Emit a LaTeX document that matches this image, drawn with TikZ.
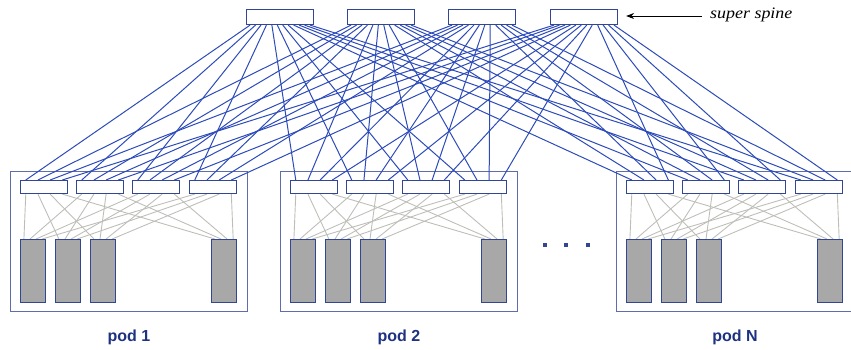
\documentclass[tikz,border=0pt]{standalone}
\usepackage{fontspec}
\setmainfont{Liberation Serif}
\setsansfont{Liberation Sans}
\usetikzlibrary{calc,arrows.meta}
\definecolor{linkblue}{RGB}{45,75,185}
\definecolor{boxblue}{RGB}{50,70,150}
\definecolor{podblue}{RGB}{95,110,170}
\definecolor{srvgray}{RGB}{168,168,168}
\definecolor{thin}{RGB}{190,190,185}
\definecolor{labelblue}{RGB}{30,50,130}
\tikzset{
  spinebox/.style={draw=boxblue, fill=white, line width=1.1pt, minimum width=67pt, minimum height=15pt, inner sep=0pt, anchor=north west},
  leafbox/.style={draw=boxblue, fill=white, line width=1.1pt, minimum width=47pt, minimum height=13pt, inner sep=0pt, anchor=north west},
  srvbox/.style={draw=boxblue, fill=srvgray, line width=1.1pt, minimum width=25pt, minimum height=63pt, inner sep=0pt, anchor=north west},
  podbox/.style={draw=podblue, line width=1pt, minimum width=237pt, minimum height=140pt, inner sep=0pt, anchor=north west},
  uplink/.style={draw=linkblue, line width=1pt},
  downlink/.style={draw=thin, line width=0.9pt},
  podlabel/.style={font=\sffamily\bfseries\fontsize{16}{18}\selectfont, text=labelblue},
  dot/.style={fill=boxblue, minimum size=4.5pt, inner sep=0pt},
}
\begin{document}
\begin{tikzpicture}[x=1pt,y=-1pt]
\useasboundingbox (0,0) rectangle (851,349);
% pods
\foreach \p/\px in {1/10,2/280,3/616}{
  \node[podbox] (pod\p) at (\px,171) {};
  \foreach \i/\o in {1/10,2/66,3/122,4/179}{
    \node[leafbox] (p\p l\i) at (\px+\o,180) {};
  }
  \foreach \j/\o in {1/10,2/45,3/80,4/201}{
    \node[srvbox] (p\p v\j) at (\px+\o,239) {};
  }
}
% leaf to server links
\foreach \p in {1,2,3}{
  \foreach \i in {1,2,3,4}{
    \foreach \j in {1,2,3,4}{
      \pgfmathsetmacro{\fa}{0.12+(\j-1)*0.76/3}
      \pgfmathsetmacro{\fb}{0.15+(\i-1)*0.7/3}
      \draw[downlink] ($(p\p l\i.south west)!\fa!(p\p l\i.south east)$) -- ($(p\p v\j.north west)!\fb!(p\p v\j.north east)$);
    }
  }
}
% redraw servers on top
\foreach \p/\px in {1/10,2/280,3/616}{
  \foreach \j/\o in {1/10,2/45,3/80,4/201}{
    \node[srvbox] at (\px+\o,239) {};
  }
}
% spines
\foreach \s/\sx in {1/246,2/347,3/448,4/550}{
  \node[spinebox] (s\s) at (\sx,9) {};
}
% spine to leaf links
\foreach \s in {1,2,3,4}{
  \foreach \p in {1,2,3}{
    \foreach \i in {1,2,3,4}{
      \pgfmathsetmacro{\fa}{0.06+((\p-1)*4+\i-1)*0.88/11}
      \pgfmathsetmacro{\fb}{0.12+(\s-1)*0.76/3}
      \draw[uplink] ($(s\s.south west)!\fa!(s\s.south east)$) -- ($(p\p l\i.north west)!\fb!(p\p l\i.north east)$);
    }
  }
}
% redraw boxes on top of links
\foreach \s/\sx in {1/246,2/347,3/448,4/550}{
  \node[spinebox] at (\sx,9) {};
}
\foreach \p/\px in {1/10,2/280,3/616}{
  \foreach \i/\o in {1/10,2/66,3/122,4/179}{
    \node[leafbox] at (\px+\o,180) {};
  }
}
% dots
\node[dot] (d1) at (545,245) {};
\node[dot] (d2) at (566,245) {};
\node[dot] (d3) at (588,245) {};
% labels
\node[podlabel] (lab1) at (pod1.south |- 0,337) {pod 1};
\node[podlabel] (lab2) at (pod2.south |- 0,337) {pod 2};
\node[podlabel] (lab3) at (pod3.south |- 0,337) {pod N};
% super spine annotation
\coordinate (arrstart) at (702,16);
\coordinate (arrtip) at ($(s4.east)+(8,0)$);
\node[anchor=west, font=\itshape\fontsize{16}{18}\selectfont, inner sep=0pt, xscale=1.12] (sslabel) at (710,15) {super spine};
\draw[-{Stealth[length=8pt,width=6pt]}, line width=0.9pt] (arrstart) -- (arrtip |- arrstart);
\end{tikzpicture}
\end{document}
